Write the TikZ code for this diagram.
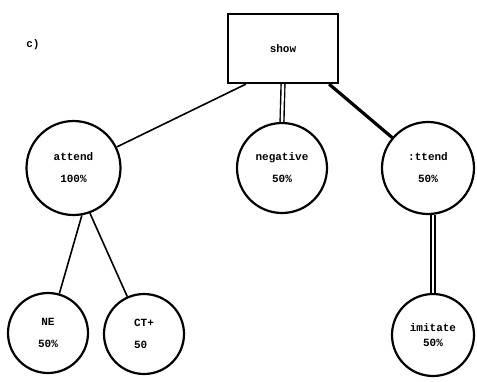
\documentclass[tikz,border=0pt]{standalone}
\usepackage{fontspec}
\setmonofont{Liberation Mono}
\begin{document}
\begin{tikzpicture}[x=1pt,y=-1pt,
  txt/.style={font=\ttfamily\bfseries\fontsize{11}{22}\selectfont},
  circ/.style={circle,draw,line width=2.2pt,inner sep=0pt,align=center,txt},
  box/.style={rectangle,draw,line width=2.2pt,inner sep=0pt,txt},
  plain/.style={line width=1.6pt},
  heavy/.style={line width=3.2pt},
  dbl/.style={double,line width=1.4pt,double distance=2.4pt}]
\useasboundingbox (0,0) rectangle (477,381);
\node[txt] (lab) at (33,45) {c)};
\node[box,minimum width=110pt,minimum height=69pt] (show) at (283,48.5) {show};
\node[circ,minimum size=94pt] (attend) at (73.5,168) {attend\\100\%};
\node[circ,minimum size=90pt] (negative) at (282,168) {negative\\50\%};
\node[circ,minimum size=92pt] (rattend) at (428,168) {:ttend\\50\%};
\node[circ,minimum size=80pt] (ne) at (48,333) {NE\\50\%};
\node[circ,minimum size=80pt,align=left] (ct) at (144,334) {CT+\\50};
\node[circ,minimum size=82pt,font=\ttfamily\bfseries\fontsize{11}{15}\selectfont] (imitate) at (433,335) {imitate\\50\%};
\draw[plain] ([xshift=19pt]show.south west) -- (attend);
\draw[dbl] (show.south) -- (negative.north);
\draw[heavy] ([xshift=-10pt]show.south east) -- (rattend);
\draw[plain] (attend.-80) -- (ne);
\draw[plain] (attend.-70) -- (ct);
\draw[dbl] (rattend.south -| imitate.north) -- (imitate.north);
\end{tikzpicture}
\end{document}
